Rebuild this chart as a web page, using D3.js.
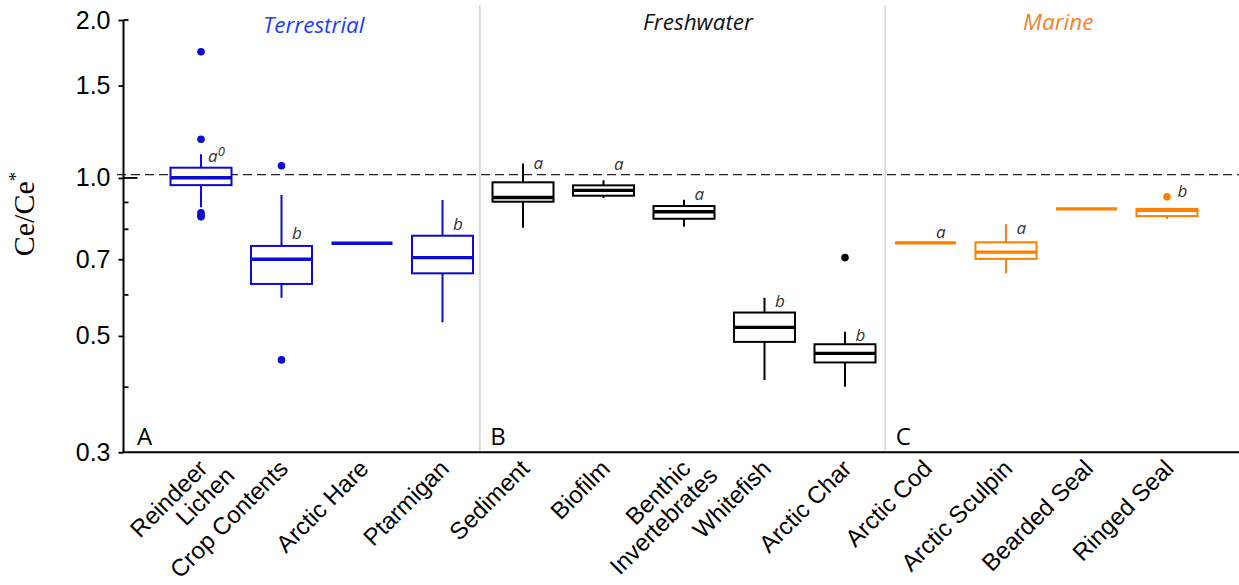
<!DOCTYPE html>
<html>
<head>
<meta charset="utf-8">
<script src="https://cdn.jsdelivr.net/npm/d3@7"></script>
<style>
  html, body { margin: 0; padding: 0; background: #fff; }
  svg { display: block; }
</style>
</head>
<body>
<svg id="chart" width="1239" height="585"></svg>
<script>
// Ce anomaly (Ce/Ce*) by sample type, grouped by ecosystem
const categories = ["Reindeer Lichen", "Crop Contents", "Arctic Hare", "Ptarmigan",
  "Sediment", "Biofilm", "Benthic Invertebrates", "Whitefish", "Arctic Char",
  "Arctic Cod", "Arctic Sculpin", "Bearded Seal", "Ringed Seal"];
const labelLines = [["Reindeer", "Lichen"], ["Crop Contents"], ["Arctic Hare"], ["Ptarmigan"],
  ["Sediment"], ["Biofilm"], ["Benthic", "Invertebrates"], ["Whitefish"], ["Arctic Char"],
  ["Arctic Cod"], ["Arctic Sculpin"], ["Bearded Seal"], ["Ringed Seal"]];
const ecosystem = ["T", "T", "T", "T", "F", "F", "F", "F", "F", "M", "M", "M", "M"];

// box-plot statistics
const whiskerLow  = [0.879, 0.591, 0.751, 0.531, 0.804, 0.916, 0.807, 0.412, 0.400, 0.752, 0.658, 0.873, 0.835];
const q1          = [0.969, 0.628, 0.751, 0.658, 0.901, 0.925, 0.836, 0.487, 0.445, 0.752, 0.701, 0.873, 0.846];
const medians     = [1.001, 0.700, 0.751, 0.705, 0.918, 0.947, 0.862, 0.519, 0.463, 0.752, 0.722, 0.873, 0.868];
const q3          = [1.046, 0.742, 0.751, 0.776, 0.981, 0.968, 0.884, 0.554, 0.482, 0.752, 0.754, 0.873, 0.873];
const whiskerHigh = [1.109, 0.928, 0.751, 0.908, 1.066, 0.990, 0.909, 0.591, 0.509, 0.752, 0.816, 0.873, 0.873];
const outliers    = [[1.740, 1.185, 0.858, 0.850, 0.843], [1.055, 0.450], [], [], [], [], [], [], [0.705],
  [], [], [], [0.921]];

// significance groupings and the level they are written at
const sigLetters = ["a", "b", "", "b", "a", "a", "a", "b", "b", "a", "a", "", "b"];
const sigSup     = ["0", "", "", "", "", "", "", "", "", "", "", "", ""];
const sigLevel   = [1.074, 0.764, null, 0.796, 1.040, 1.035, 0.908, 0.568, 0.490, 0.767, 0.781, null, 0.918];

const panels = [
  { key: "T", title: "Terrestrial", letter: "A", titleShift: -8, titleY: 33 },
  { key: "F", title: "Freshwater", letter: "B", titleShift: 14, titleY: 30 },
  { key: "M", title: "Marine", letter: "C", titleShift: 12, titleY: 30 }
];
const boxColor   = { T: "#0a0ad2", F: "#000000", M: "#ff8000" };
const titleColor = { T: "#1b3dff", F: "#111111", M: "#f5822d" };

const majorTicks = [0.3, 0.5, 0.7, 1.0, 1.5, 2.0];
const minorTicks = [0.4, 0.6, 0.8, 0.9];
const refLevel = 1.015;

const svg = d3.select("#chart");
const W = 1239;
const plotLeft = 123.5, plotTop = 20, plotBottom = 452.3;

const y = d3.scaleLog().domain([0.3, 2.0]).range([plotBottom, plotTop]);
const x = d3.scalePoint().domain(categories).range([201, 1167]);
const boxW = 61;

// panel separators
const sepX = [
  (x(categories[3]) + x(categories[4])) / 2 - 3,
  (x(categories[8]) + x(categories[9])) / 2
];
const panelLeft = [plotLeft, sepX[0], sepX[1]];
svg.selectAll("line.sep").data(sepX).join("line")
  .attr("class", "sep")
  .attr("x1", d => d).attr("x2", d => d)
  .attr("y1", 5).attr("y2", plotBottom)
  .attr("stroke", "#dcdcdc").attr("stroke-width", 2);

// reference line
svg.append("line")
  .attr("x1", 117).attr("x2", W)
  .attr("y1", y(refLevel)).attr("y2", y(refLevel))
  .attr("stroke", "#222").attr("stroke-width", 1.3)
  .attr("stroke-dasharray", "9,5");

// y axis (major ticks outward, minor ticks inward)
const yAxis = svg.append("g")
  .attr("transform", `translate(${plotLeft},0)`)
  .call(d3.axisLeft(y).tickValues(majorTicks).tickFormat(d3.format(".1f")).tickSize(5).tickPadding(8));
yAxis.select(".domain").attr("stroke-width", 2).attr("d", `M0,${plotTop}V${plotBottom}`);
yAxis.selectAll(".tick line").attr("stroke-width", 1.8);
yAxis.selectAll(".tick text")
  .attr("font-family", "'Liberation Sans', Arial, sans-serif")
  .attr("font-size", 25).attr("fill", "#000");

const yMinor = svg.append("g")
  .attr("transform", `translate(${plotLeft},0)`)
  .call(d3.axisRight(y).tickValues(minorTicks).tickFormat("").tickSize(5));
yMinor.select(".domain").remove();
yMinor.selectAll(".tick line").attr("stroke-width", 1.8);

// inward extensions on the 1.0 and 2.0 ticks
svg.append("line").attr("x1", plotLeft).attr("x2", plotLeft + 14)
  .attr("y1", y(1.0)).attr("y2", y(1.0)).attr("stroke", "#000").attr("stroke-width", 1.8);
svg.append("line").attr("x1", plotLeft).attr("x2", plotLeft + 5)
  .attr("y1", y(2.0)).attr("y2", y(2.0)).attr("stroke", "#000").attr("stroke-width", 1.8);

// x axis baseline
svg.append("line").attr("x1", plotLeft - 1).attr("x2", W)
  .attr("y1", plotBottom).attr("y2", plotBottom)
  .attr("stroke", "#000").attr("stroke-width", 2);

// y title
const yTitle = svg.append("text")
  .attr("transform", "translate(34,214) rotate(-90)")
  .attr("text-anchor", "middle")
  .attr("font-family", "'Liberation Serif', 'Times New Roman', serif")
  .attr("font-size", 30).attr("fill", "#000");
yTitle.append("tspan").text("Ce/Ce");
yTitle.append("tspan").attr("dy", -12).attr("font-size", 19).text("*");

// panel titles and letters
panels.forEach((p, k) => {
  const idx = categories.filter((c, i) => ecosystem[i] === p.key).map(c => x(c));
  const cx = (d3.min(idx) + d3.max(idx)) / 2 + p.titleShift;
  svg.append("text")
    .attr("x", cx).attr("y", p.titleY)
    .attr("text-anchor", "middle")
    .attr("font-family", "'Open Sans', sans-serif")
    .attr("font-style", "italic")
    .attr("font-size", 22.5)
    .attr("fill", titleColor[p.key])
    .text(p.title);
  svg.append("text")
    .attr("x", panelLeft[k] + (k === 0 ? 13.5 : 10.5))
    .attr("y", 445)
    .attr("font-family", "'Open Sans', sans-serif")
    .attr("font-size", 24)
    .attr("fill", "#000")
    .text(p.letter);
});

// boxes
const boxes = svg.append("g").selectAll("g.box").data(categories).join("g")
  .attr("class", "box")
  .attr("transform", d => `translate(${x(d)},0)`);

boxes.each(function(d, i) {
  const g = d3.select(this);
  const col = boxColor[ecosystem[i]];
  // whiskers
  g.append("line").attr("x1", 0).attr("x2", 0)
    .attr("y1", y(whiskerHigh[i])).attr("y2", y(q3[i]))
    .attr("stroke", col).attr("stroke-width", 2);
  g.append("line").attr("x1", 0).attr("x2", 0)
    .attr("y1", y(q1[i])).attr("y2", y(whiskerLow[i]))
    .attr("stroke", col).attr("stroke-width", 2);
  // box
  g.append("rect")
    .attr("x", -boxW / 2).attr("width", boxW)
    .attr("y", y(q3[i])).attr("height", y(q1[i]) - y(q3[i]))
    .attr("fill", "#fff").attr("stroke", col).attr("stroke-width", 2);
  // median
  g.append("line")
    .attr("x1", -boxW / 2).attr("x2", boxW / 2)
    .attr("y1", y(medians[i])).attr("y2", y(medians[i]))
    .attr("stroke", col).attr("stroke-width", 3.4);
  // outliers
  g.selectAll("circle").data(outliers[i]).join("circle")
    .attr("cx", 0).attr("cy", v => y(v)).attr("r", 3.8).attr("fill", col);
  // significance letters
  if (sigLetters[i]) {
    const t = g.append("text")
      .attr("x", i === 0 ? 7 : 10.5).attr("y", y(sigLevel[i]))
      .attr("font-family", "'Open Sans', sans-serif")
      .attr("font-style", "italic").attr("font-size", 17)
      .attr("fill", "#333");
    t.append("tspan").text(sigLetters[i]);
    if (sigSup[i]) t.append("tspan").attr("dy", -6).attr("font-size", 13).text(sigSup[i]);
  }
});

// category labels, rotated
const labels = svg.append("g").selectAll("text.cat").data(categories).join("text")
  .attr("class", "cat")
  .attr("transform", d => `translate(${x(d) + 8},470) rotate(-45)`)
  .attr("text-anchor", "end")
  .attr("font-family", "'Liberation Sans', Arial, sans-serif")
  .attr("font-size", 24)
  .attr("fill", "#000");
labels.each(function(d, i) {
  const t = d3.select(this);
  labelLines[i].forEach((ln, k) => {
    t.append("tspan").attr("x", k === 0 ? 0 : 14).attr("dy", k === 0 ? 0 : "1.0em").text(ln);
  });
});
</script>
</body>
</html>
